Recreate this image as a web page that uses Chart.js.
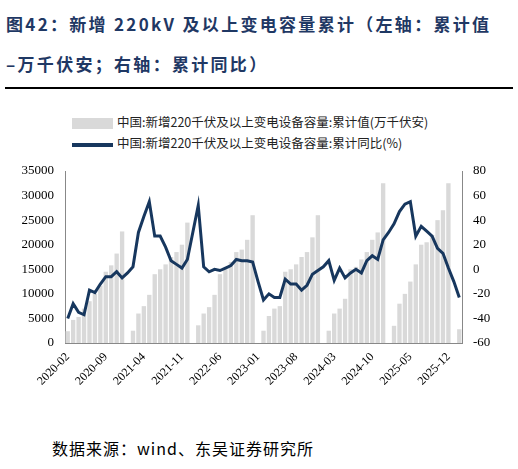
<!DOCTYPE html>
<html><head><meta charset="utf-8">
<script src="https://cdn.jsdelivr.net/npm/chart.js@4/dist/chart.umd.min.js"></script>
<style>
body{margin:0;width:518px;height:469px;background:#fff;position:relative;font-family:"Noto Serif CJK SC","Noto Sans CJK SC",serif;overflow:hidden}
#t{position:absolute;left:6px;top:4px;font-size:17px;font-weight:bold;color:#1f3864;line-height:40px;font-family:"Noto Sans CJK SC";letter-spacing:2.3px}
#rule{position:absolute;left:5px;top:87px;width:508px;height:2px;background:#000}
.lg{position:absolute;left:72px;font-size:12.5px;color:#222;font-family:"Noto Sans CJK SC"}
.sw{display:inline-block;width:41px;vertical-align:middle;margin-right:4px}
#src{position:absolute;left:52px;top:436px;font-size:16px;color:#000;font-family:"Noto Sans CJK SC";letter-spacing:1px}
#c{position:absolute;left:0;top:160px}
</style></head><body>
<div id="t">图42：新增 220kV 及以上变电容量累计（左轴：累计值<br>–万千伏安；右轴：累计同比）</div>
<div id="rule"></div>
<div class="lg" style="top:112px"><span class="sw" style="height:11px;background:#d9d9d9"></span>中国:新增220千伏及以上变电设备容量:累计值(万千伏安)</div>
<div class="lg" style="top:133px"><span class="sw" style="height:4px;background:#17375e"></span>中国:新增220千伏及以上变电设备容量:累计同比(%)</div>
<div id="src">数据来源：wind、东吴证券研究所</div>
<canvas id="c" width="518" height="230"></canvas>
<script>
const months=[];
for(let y=2020;y<=2026;y++){for(let m=1;m<=12;m++){if((y===2020&&m<2)||(y===2026&&m>2))continue;months.push(y+'-'+String(m).padStart(2,'0'));}}
const cumValue=[
2400,4700,5300,7000,8500,10000,11700,14500,15800,18200,22700,null,
2500,6000,7500,9800,14000,15000,16000,17500,18500,20000,24500,null,
3600,6000,7300,9800,14000,15000,16500,18500,19000,21000,26000,null,
2500,5500,7000,7500,14500,15000,16000,17500,18500,21500,26000,null,
2500,6000,7000,9000,15000,15500,17000,18500,21000,22500,32500,null,
3500,8000,10000,12500,16000,20000,20500,22000,25000,27000,32500,null,
2800];
const yoy=[
-40,-28,-35,-37,-17,-19,-12,-6,-6,-2,-7,-3,
2,30,43,55,27,27,18,7,4,1,8,30,
52,2,-2,0,-1,1,3,8,7,7,6,-10,
-25,-20,-23,-23,-8,-12,-12,-17,-13,-4,-1,2,
7,-9,1,-7,-3,0,-3,7,11,8,24,30,
37,47,53,55,27,35,31,27,17,13,1,-10,
-23];
const f='"Times New Roman","Liberation Serif",serif';
new Chart(document.getElementById('c'),{
data:{labels:months,datasets:[
{type:'line',data:yoy,yAxisID:'y1',borderColor:'#17375e',borderWidth:3,pointRadius:0,tension:0,order:0},
{type:'bar',data:cumValue,yAxisID:'y',backgroundColor:'#d9d9d9',barPercentage:1,categoryPercentage:0.8,order:1}
]},
options:{responsive:false,animation:false,layout:{padding:{top:11}},
plugins:{legend:{display:false},tooltip:{enabled:false}},
scales:{
x:{grid:{display:false,drawTicks:true,tickLength:4},border:{color:'#888'},
 ticks:{autoSkip:false,maxRotation:45,minRotation:45,color:'#000',font:{family:f,size:12},
  callback:(v,i)=>i%7===0?months[i]:''},
 afterFit:s=>{s.height=47}},
y:{position:'left',min:0,max:35000,grid:{display:false},border:{color:'#888'},
 ticks:{stepSize:5000,color:'#000',font:{family:f,size:13},callback:v=>String(v)},afterFit:s=>{s.width=65}},
y1:{position:'right',min:-60,max:80,grid:{display:false},border:{color:'#888'},
 ticks:{stepSize:20,color:'#000',font:{family:f,size:13}},afterFit:s=>{s.width=56}}
}}});
</script></body></html>
